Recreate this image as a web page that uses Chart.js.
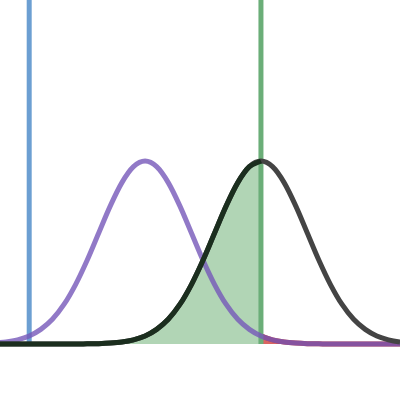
<!DOCTYPE html>
<html>
<head>
<meta charset="utf-8">
<script src="https://cdn.jsdelivr.net/npm/chart.js"></script>
<style>
    html, body { margin: 0; padding: 0; background: #ffffff; }
    .chart { width: 400px; height: 400px; }
</style>
</head>
<body>
<div class="chart">
    <canvas id="power"></canvas>
</div>
<script>
// test statistic positions (in standard deviations of the null curve)
const xs = [-3.25, -3, -2.75, -2.5, -2.25, -2, -1.75, -1.5, -1.25, -1, -0.75, -0.5, -0.25,
    0, 0.25, 0.5, 0.75, 1, 1.25, 1.5, 1.75, 2, 2.25, 2.5, 2.75, 3, 3.25, 3.5, 3.75,
    4, 4.25, 4.5, 4.75, 5, 5.25, 5.5, 5.75];

// null distribution (purple), height relative to its peak
const nullCurve = [0.005, 0.011, 0.023, 0.044, 0.080, 0.135, 0.216, 0.325, 0.458, 0.607, 0.755, 0.882, 0.969,
    1, 0.969, 0.882, 0.755, 0.607, 0.458, 0.325, 0.216, 0.135, 0.080, 0.044, 0.023, 0.011, 0.005, 0.002, 0.001,
    0, 0, 0, 0, 0, 0, 0, 0];

// alternative distribution (black)
const altCurve = [0, 0, 0, 0, 0, 0, 0, 0, 0.001, 0.002, 0.005, 0.011, 0.023,
    0.044, 0.080, 0.135, 0.216, 0.325, 0.458, 0.607, 0.755, 0.882, 0.969, 1, 0.969, 0.882, 0.755, 0.607, 0.458,
    0.325, 0.216, 0.135, 0.080, 0.044, 0.023, 0.011, 0.005];

// critical values
const critLow = -2.5;
const critHigh = 2.5;

const xMin = -3.13;
const xMax = 5.5;
const yMin = -0.306;
const yMax = 1.88;

function points(values, keep) {
    let out = [];
    xs.forEach((x, i) => {
        if (keep(x)) out.push({ x: x, y: values[i] });
    });
    return out;
}

function vline(x) {
    return [{ x: x, y: 0 }, { x: x, y: yMax }];
}

const all = () => true;

let ctx = document.getElementById('power').getContext('2d');
let chart = new Chart(ctx, {
    type: 'line',
    data: {
        datasets: [
            {
                label: 'beta edge',
                data: points(altCurve, x => x <= critHigh),
                borderColor: '#1b2e1e',
                borderWidth: 5,
                fill: false,
                order: 1
            },
            {
                label: 'alternative',
                data: points(altCurve, all),
                borderColor: '#444444',
                borderWidth: 5,
                fill: false,
                order: 2
            },
            {
                label: 'null',
                data: points(nullCurve, all),
                borderColor: 'rgba(118, 88, 185, 0.8)',
                borderWidth: 5,
                fill: false,
                order: 3
            },
            {
                label: 'upper critical',
                data: vline(critHigh),
                borderColor: '#6bae78',
                borderWidth: 5,
                cubicInterpolationMode: 'default',
                tension: 0,
                fill: false,
                order: 4
            },
            {
                label: 'lower critical',
                data: vline(critLow),
                borderColor: '#6c9fd2',
                borderWidth: 5,
                cubicInterpolationMode: 'default',
                tension: 0,
                fill: false,
                order: 5
            },
            {
                label: 'beta area',
                data: points(altCurve, x => x <= critHigh),
                borderWidth: 0,
                borderColor: 'rgba(0,0,0,0)',
                backgroundColor: '#b1d5b5',
                fill: 'origin',
                order: 6
            },
            {
                label: 'alpha area',
                data: points(nullCurve, x => x >= critHigh),
                borderWidth: 5,
                borderColor: 'rgba(200, 60, 55, 1)',
                backgroundColor: 'rgba(205, 50, 45, 0.75)',
                fill: 'origin',
                order: 7
            }
        ]
    },
    options: {
        responsive: true,
        maintainAspectRatio: false,
        animation: false,
        layout: { padding: 0 },
        elements: {
            point: { radius: 0, hoverRadius: 0 },
            line: { cubicInterpolationMode: 'monotone', borderCapStyle: 'butt' }
        },
        plugins: {
            legend: { display: false },
            tooltip: { enabled: false },
            title: { display: false }
        },
        scales: {
            x: { type: 'linear', min: xMin, max: xMax, display: false },
            y: { type: 'linear', min: yMin, max: yMax, display: false }
        }
    }
});
</script>
</body>
</html>
